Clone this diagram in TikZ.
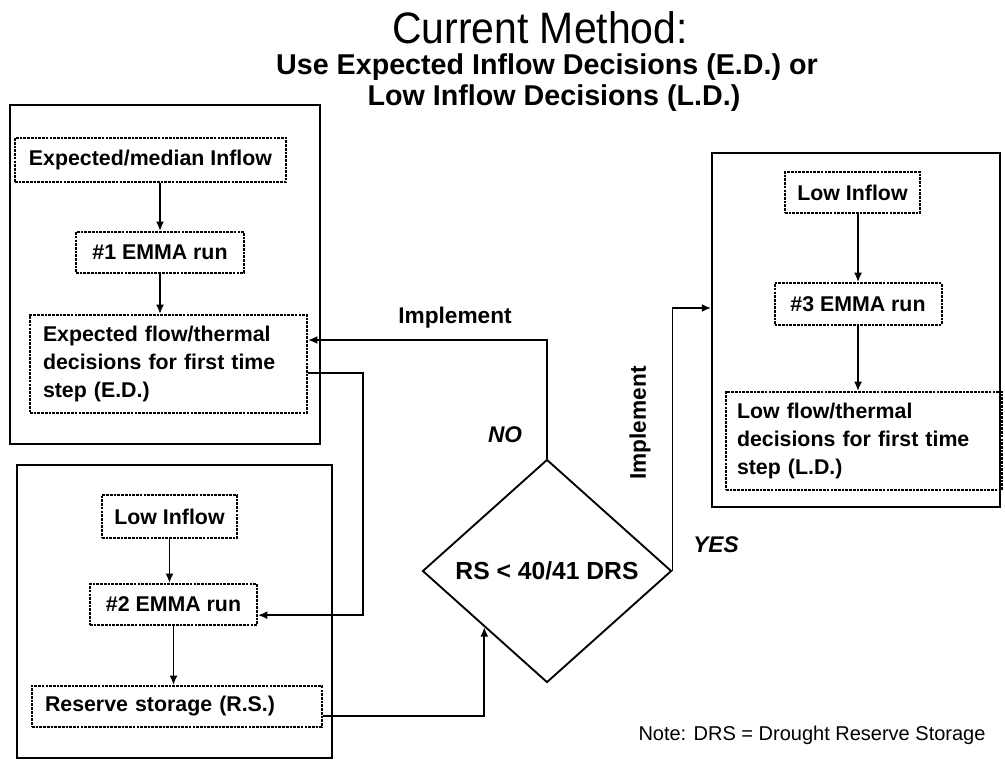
\documentclass[tikz,border=0pt]{standalone}
\usepackage{fontspec}
\setmainfont{Liberation Sans}
\usetikzlibrary{shapes.geometric,arrows.meta}
\begin{document}
\begin{tikzpicture}[x=0.75pt,y=-0.75pt,
  dotbox/.style={draw, line width=1.5pt, dash pattern={on 2pt off 0.8pt}, inner sep=0pt,
     font=\bfseries\fontsize{16}{21}\selectfont},
  outerbox/.style={draw, line width=1.3pt, inner sep=0pt},
  arr/.style={line width=1.3pt, -{Latex[length=7pt,width=6pt]}},
  lbl/.style={font=\bfseries\fontsize{17}{20}\selectfont, inner sep=0pt},
  dec/.style={draw, diamond, line width=1.4pt, inner sep=0pt,
     minimum width=249*0.75pt, minimum height=223*0.75pt,
     font=\bfseries\fontsize{18.5}{22}\selectfont}
]
\useasboundingbox (0,0) rectangle (1005,760);

% titles
\node[inner sep=0pt, font=\fontsize{33}{36}\selectfont] (title) at (540,28) {\scalebox{0.93}[1]{Current Method:}};
\node[inner sep=0pt, font=\bfseries\fontsize{21.5}{26}\selectfont] (sub1) at (547,67) {Use Expected Inflow Decisions (E.D.) or};
\node[inner sep=0pt, font=\bfseries\fontsize{21.5}{26}\selectfont] (sub2) at (554,98) {Low Inflow Decisions (L.D.)};

% outer boxes
\node[outerbox, minimum width=310*0.75pt, minimum height=339*0.75pt] (O1) at (165,274.5) {};
\node[outerbox, minimum width=315*0.75pt, minimum height=293*0.75pt] (O2) at (174.5,611.5) {};
\node[outerbox, minimum width=288*0.75pt, minimum height=354*0.75pt] (O3) at (856,330) {};

% left top group
\node[dotbox, minimum width=271*0.75pt, minimum height=44*0.75pt] (A) at (150.5,160) {Expected/median Inflow};
\node[dotbox, minimum width=168*0.75pt, minimum height=41*0.75pt] (B) at (160,252.5) {\#1 EMMA run};
\node[dotbox, minimum height=98*0.75pt, inner xsep=13*0.75pt, text width=251*0.75pt, align=left] (C) at (168.5,364)
  {Expected flow/thermal\\decisions for first time\\step (E.D.)};

% left bottom group
\node[dotbox, minimum width=135*0.75pt, minimum height=43*0.75pt] (D) at (169.5,516.5) {Low Inflow};
\node[dotbox, minimum width=167*0.75pt, minimum height=41*0.75pt] (E) at (173.5,604.5) {\#2 EMMA run};
\node[dotbox, minimum height=41*0.75pt, inner xsep=13*0.75pt, text width=264*0.75pt, align=left] (F) at (177,706.5)
  {Reserve storage (R.S.)};

% right group
\node[dotbox, minimum width=135*0.75pt, minimum height=41*0.75pt] (G) at (852.5,192.5) {Low Inflow};
\node[dotbox, minimum width=167*0.75pt, minimum height=42*0.75pt] (H) at (858,304) {\#3 EMMA run};
\node[dotbox, minimum height=98*0.75pt, inner xsep=11*0.75pt, text width=254*0.75pt, align=left] (I) at (864,441)
  {Low flow/thermal\\decisions for first time\\step (L.D.)};

% decision
\node[dec] (Dm) at (547,571) {RS < 40/41 DRS};

% connectors inside groups
\draw[arr] (A.south -| B.north) -- (B.north);
\draw[arr] (B.south) -- (B.south |- C.north);
\draw[arr] (D.south) -- (D.south |- E.north);
\draw[arr] (E.south) -- (E.south |- F.north);
\draw[arr] (G.south -| H.north) -- (H.north);
\draw[arr] (H.south) -- (H.south |- I.north);

% cross connectors
\coordinate (k1) at (363,373);
\draw[arr] (C.east |- k1) -- (k1) |- ([yshift=-8pt]E.east);
\draw[arr] ([yshift=-7pt]F.east) -| (Dm.south west);
\draw[arr] (Dm.north) |- ([yshift=18pt]C.east);
\coordinate (k2) at (672,308);
\draw[arr] (Dm.east) -- (Dm.east |- k2) -- (O3.west |- k2);

% labels
\node[lbl] (impl1) at (455,318) {Implement};
\node[lbl, font=\bfseries\itshape\fontsize{17}{20}\selectfont] (no) at (505,435) {NO};
\node[lbl, rotate=90] (impl2) at (640,423) {Implement};
\node[lbl, font=\bfseries\itshape\fontsize{17}{20}\selectfont] (yes) at (716,545) {YES};
\node[inner sep=0pt, font=\fontsize{15}{18}\selectfont] (note) at (812,735) {Note: DRS = Drought Reserve Storage};
\end{tikzpicture}
\end{document}
